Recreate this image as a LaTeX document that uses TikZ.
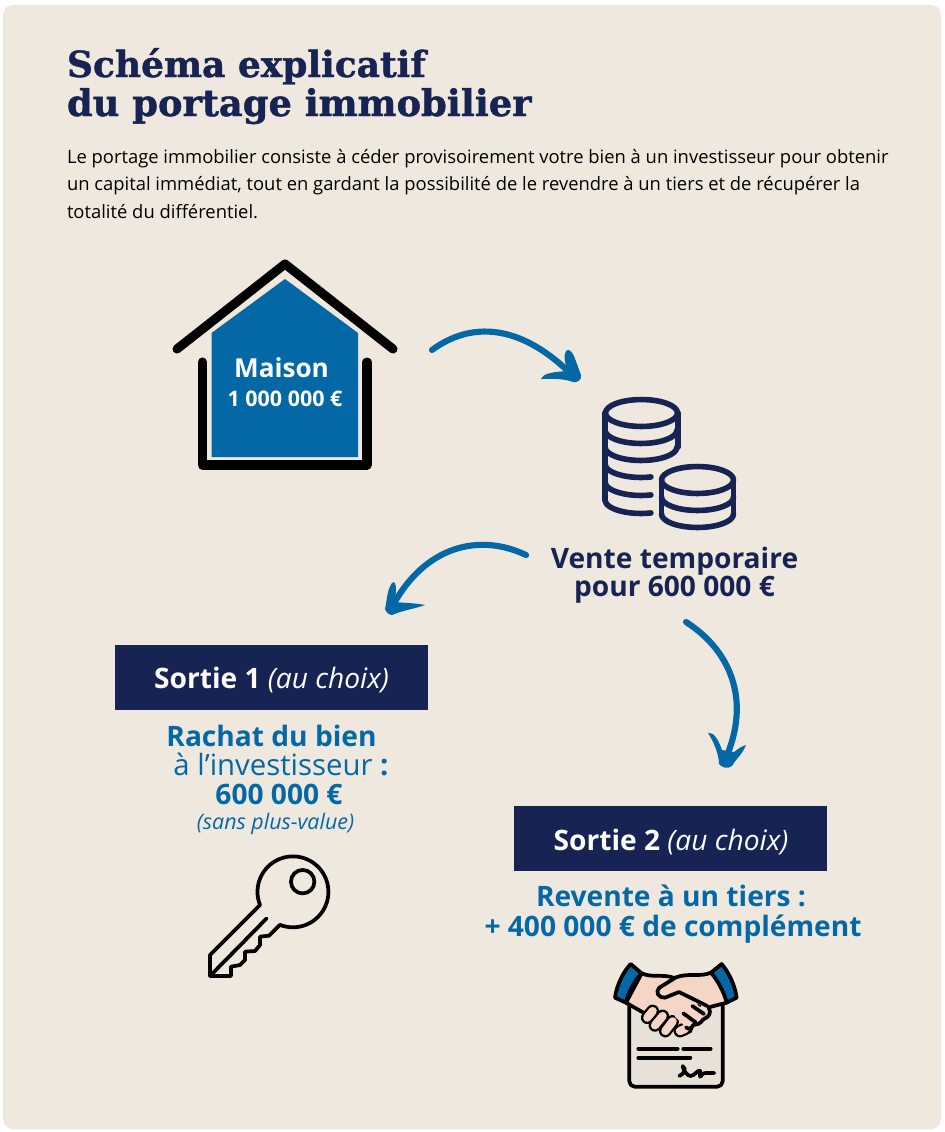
\documentclass[tikz,border=0pt]{standalone}
\usepackage{fontspec}
\setmainfont{Open Sans}
\newfontfamily\titlefont[BoldFeatures={FakeBold=1.2}]{DejaVu Serif}
\definecolor{panel}{HTML}{EFE8DF}
\definecolor{navy}{HTML}{172352}
\definecolor{brandblue}{HTML}{0468A6}
\definecolor{skin}{HTML}{F5D5C3}
\definecolor{paper}{HTML}{E8E1D7}
\tikzset{
  txt/.style={inner sep=0pt,outer sep=0pt,anchor=base},
  txtl/.style={inner sep=0pt,outer sep=0pt,anchor=base west},
  banner/.style={fill=navy,text=white,minimum width=234.75pt,minimum height=48.75pt,inner sep=0pt},
  curve/.style={draw=brandblue,line width=4.6pt,line cap=round},
  head/.style={fill=brandblue},
  coin/.style={draw=navy,line width=4.2pt,line cap=round,line join=round},
  ink/.style={draw=black,line width=6.8pt,line cap=round,line join=round},
  thin ink/.style={draw=black,line width=2.8pt,line cap=round,line join=round},
}
\newcommand{\titlesize}{\fontsize{27.6pt}{30pt}\selectfont}
\newcommand{\bodysize}{\fontsize{13.8pt}{20pt}\selectfont}
\newcommand{\bigsize}{\fontsize{21.1pt}{24pt}\selectfont}
\newcommand{\fingerpath}[4]{\draw[black,line width=9.6pt,line cap=round] (#1,#2) -- (#3,#4); \draw[skin,line width=6.2pt,line cap=round] (#1,#2) -- (#3,#4);}
\begin{document}
\begin{tikzpicture}[x=0.75pt,y=-0.75pt]
\useasboundingbox (0,0) rectangle (945,1132);
\fill[white] (0,0) rectangle (945,1132);
\fill[panel,rounded corners=7.5pt] (3,5) rectangle (941,1129);
% title
\node[txtl,text=navy] (title1) at (67,77) {\titlefont\bfseries\fontsize{27pt}{30pt}\selectfont Schéma explicatif};
\node[txtl,text=navy] (title2) at (67,116) {\titlefont\bfseries\titlesize du portage immobilier};
\node[txtl] (body1) at (67,163) {\bodysize Le portage immobilier consiste à céder provisoirement votre bien à un investisseur pour obtenir};
\node[txtl] (body2) at (67,190) {\bodysize un capital immédiat, tout en gardant la possibilité de le revendre à un tiers et de récupérer la};
\node[txtl] (body3) at (67,218) {\bodysize totalité du différentiel.};
% house
\fill[brandblue] (211.5,333) -- (285,279) -- (358,333) -- (358,457) -- (211.5,457) -- cycle;
\draw[ink] (177,349) -- (285,264) -- (393,349);
\draw[ink] (202.5,362) -- (202.5,465) -- (367,465) -- (367,362);
\node[txt,text=white] (maison) at (281.5,377) {\fontsize{19.6pt}{22pt}\selectfont\bfseries Maison};
\node[txt,text=white] (maisonprix) at (285,406) {\fontsize{16.1pt}{18pt}\selectfont\bfseries 1 000 000 €};
% coins
\draw[coin] (641.5,413) ellipse [x radius=27pt,y radius=10.1pt];
\draw[coin] (605,413) -- (605,500);
\draw[coin] (678,413) -- (678,447);
\draw[coin] (605,430) arc[start angle=180,end angle=360,x radius=27pt,y radius=10.1pt];
\draw[coin] (605,447) arc[start angle=180,end angle=360,x radius=27pt,y radius=10.1pt];
\draw[coin] (605,464) arc[start angle=180,end angle=286,x radius=27pt,y radius=10.1pt];
\draw[coin] (605,482) arc[start angle=180,end angle=286,x radius=27pt,y radius=10.1pt];
\draw[coin] (605,500) arc[start angle=180,end angle=286,x radius=27pt,y radius=10.1pt];
\draw[coin] (697.5,480) ellipse [x radius=27pt,y radius=10.1pt];
\draw[coin] (661.5,480) -- (661.5,514);
\draw[coin] (733.5,480) -- (733.5,514);
\draw[coin] (661.5,497) arc[start angle=180,end angle=360,x radius=27pt,y radius=10.1pt];
\draw[coin] (661.5,514) arc[start angle=180,end angle=360,x radius=27pt,y radius=10.1pt];
% labels
\node[txt,text=navy] (vente1) at (674.5,568) {\bigsize\bfseries Vente temporaire};
\node[txt,text=navy] (vente2) at (674.5,596) {\bigsize\bfseries pour 600 000 €};
% arrows
\coordinate (a1s) at (432,350);
\coordinate (a1e) at (574,377);
\draw[curve] (a1s) .. controls (470,322) and (520,322) .. (a1e);
\fill[head] (566,351) .. controls (569,348) and (572,352) .. (574,356) -- (581,375) .. controls (582,380) and (577,383) .. (573,382) .. controls (562,378) and (552,379) .. (541,379) .. controls (543,374) and (550,372) .. (568,371) .. controls (565,363) and (563,356) .. (566,351) -- cycle;
\coordinate (a2s) at (526,555);
\coordinate (a2e) at (392,607);
\draw[curve] (a2s) .. controls (480,533) and (425,545) .. (a2e);
\fill[head] (392,583) .. controls (395,580) and (396,585) .. (396,590) -- (395,602) .. controls (405,603) and (415,603) .. (425,605) .. controls (414,609) and (404,610) .. (392,615) .. controls (389,615) and (386,612) .. (385,609) .. controls (387,600) and (387,590) .. (392,583) -- cycle;
\coordinate (a3s) at (686,622);
\coordinate (a3e) at (725,760);
\draw[curve] (a3s) .. controls (730,650) and (752,700) .. (a3e);
\fill[head] (708,733) .. controls (713,732) and (718,738) .. (722,750) -- (734,752) .. controls (738,749) and (742,746) .. (746,745) .. controls (742,755) and (735,760) .. (732,766) .. controls (728,769) and (722,768) .. (719,764) .. controls (719,755) and (714,742) .. (708,733) -- cycle;
% exits
\node[banner] (s1) at (271.5,677.5) {};
\node[txt,text=white] (s1t) at (271.5,688) {\fontsize{21.1pt}{24pt}\selectfont\bfseries Sortie 1 \mdseries\itshape (au choix)};
\node[banner] (s2) at (670.5,838.5) {};
\node[txt,text=white] (s2t) at (671,850) {\fontsize{21.1pt}{24pt}\selectfont\bfseries Sortie 2 \mdseries\itshape (au choix)};
\node[txt,text=brandblue] (r1) at (271.5,746) {\bigsize\bfseries Rachat du bien};
\node[txt,text=brandblue] (r2) at (281,775) {\fontsize{22pt}{24pt}\selectfont à l’investisseur \bfseries :};
\node[txt,text=brandblue] (r3) at (279,804) {\bigsize\bfseries 600 000 €};
\node[txt,text=brandblue] (r4) at (275.5,829) {\fontsize{16.1pt}{18pt}\selectfont\itshape (sans plus-value)};
\node[txt,text=brandblue] (t1) at (671,906) {\bigsize\bfseries Revente à un tiers :};
\node[txt,text=brandblue] (t2) at (673,936) {\bigsize\bfseries + 400 000 € de complément};
% key
\begin{scope}[shift={(195,845)},x=0.25pt,y=-0.25pt]
\draw[thin ink] (195,180) arc[start angle=201.8,end angle=-111.4,radius=26.6pt] -- (222,272) -- (195,275) -- (195,300) -- (180,318) -- (150,320) -- (150,345) -- (135,360) -- (108,365) -- (108,393) -- (45,393) -- (45,330) -- cycle;
\draw[thin ink] (215,220) -- (45,393);
\draw[thin ink] (323,110) circle[radius=8.8pt];
\end{scope}
% handshake
\begin{scope}[shift={(600,950)},x=0.25pt,y=-0.25pt]
\draw[thin ink,fill=paper,rounded corners=4pt] (88,150) -- (88,410) -- (368,410) -- (368,150) -- cycle;
\draw[thin ink] (115,296) -- (233,296);
\draw[thin ink] (250,296) -- (332,296);
\draw[thin ink] (115,323) -- (271,323);
\draw[thin ink] (238,378) .. controls (250,372) and (262,358) .. (248,348) .. controls (250,362) and (262,378) .. (272,378) .. controls (285,376) and (292,360) .. (300,362) .. controls (300,372) and (298,385) .. (303,378) .. controls (308,365) and (320,370) .. (343,369);
% left hand
\draw[thin ink,fill=skin] (125,70) .. controls (160,85) and (190,70) .. (225,85) -- (300,160) -- (270,245) -- (215,235) -- (125,185) -- (78,158) -- cycle;
% fingers
\fingerpath{142}{203}{158}{183}
\fingerpath{165}{226}{188}{198}
\fingerpath{196}{243}{218}{214}
\fingerpath{240}{243}{256}{236}
% right hand
\fill[skin] (333,68) .. controls (300,82) and (265,68) .. (228,82) -- (178,113) .. controls (165,125) and (175,145) .. (195,143) -- (237,126) -- (322,178) .. controls (332,190) and (328,200) .. (310,208) .. controls (300,222) and (290,225) .. (280,225) .. controls (275,235) and (265,240) .. (258,232) -- (225,200) -- (300,200) -- (340,165) -- (380,158) -- cycle;
\fill[skin] (200,150) -- (238,132) -- (316,180) -- (322,192) -- (300,205) -- (272,222) -- (258,226) -- (225,200) -- cycle;
\draw[thin ink] (333,68) .. controls (300,82) and (265,68) .. (228,82) -- (178,113) .. controls (165,125) and (175,145) .. (195,143) -- (237,126) -- (322,168);
\draw[thin ink] (380,158) -- (326,172) .. controls (335,190) and (328,200) .. (310,208) .. controls (300,222) and (290,225) .. (280,225) .. controls (275,235) and (265,240) .. (258,232);
\draw[thin ink] (277,168) -- (312,192);
\draw[thin ink] (250,190) -- (287,217);
% cuffs
\draw[thin ink,fill=brandblue] (92,42) .. controls (70,65) and (50,105) .. (45,143) -- (78,158) .. controls (85,125) and (105,90) .. (125,70) -- cycle;
\draw[thin ink,fill=brandblue] (365,42) .. controls (385,65) and (405,105) .. (410,143) -- (380,158) .. controls (372,125) and (352,90) .. (333,68) -- cycle;
\end{scope}
\end{tikzpicture}
\end{document}
